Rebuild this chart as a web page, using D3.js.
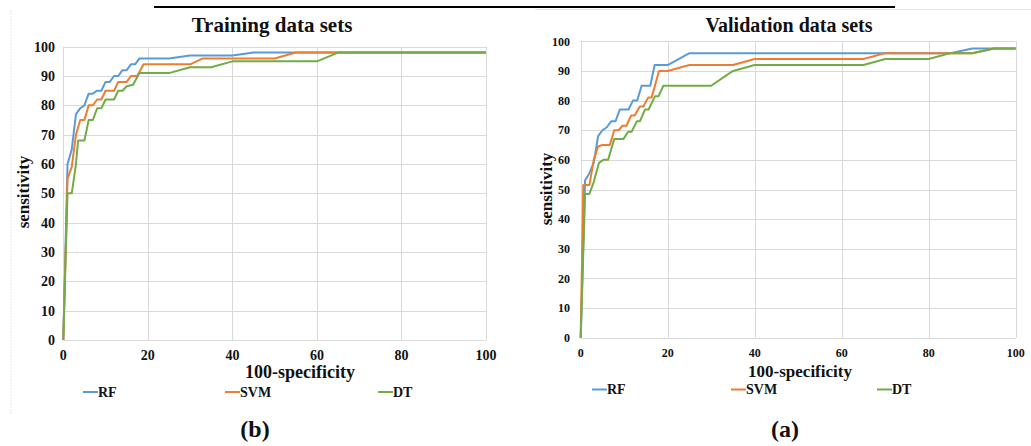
<!DOCTYPE html>
<html><head><meta charset="utf-8">
<script src="https://cdn.jsdelivr.net/npm/d3@7"></script>
<style>
html,body{margin:0;padding:0;background:#fff;}
svg{display:block;}
text{font-family:"Liberation Serif","Times New Roman",serif;font-weight:bold;fill:#111;}
</style></head>
<body>
<svg id="chart" width="1031" height="446"></svg>
<script>
// ---- data ----
const seriesNames = ["RF", "SVM", "DT"];
const seriesColors = ["#5B9BD5", "#ED7D31", "#70AD47"];
const xTicks = [0, 20, 40, 60, 80, 100];
const yTicks = [0, 10, 20, 30, 40, 50, 60, 70, 80, 90, 100];

const trainRF = [[0,0],[1,60],[2,65],[3,77],[4,79],[5,80],[6,84],[7,84],[8,85],[9,85],[10,88],[11,88],[12,90],[13,90],[14,92],[15,92],[16,94],[17,94],[18,96],[25,96],[30,97],[40,97],[45,98],[100,98]];
const trainSVM = [[0,0],[1,55],[2,59],[3,70],[4,75],[5,75],[6,80],[7,80],[8,82],[9,82],[10,85],[12,85],[13,88],[15,88],[16,90],[17.5,90],[19,94],[30,94],[33,96],[50,96],[55,98],[100,98]];
const trainDT = [[0,0],[1,50],[2,50],[3,60],[3.5,68],[5,68],[6,75],[7,75],[8,79],[9,79],[10,82],[12,82],[13,85],[14,85],[15,86.5],[16.5,87],[18,91],[25,91],[30,93],[35,93],[40,95],[60,95],[65,98],[100,98]];

const validRF = [[0,0],[1,53],[2,55.5],[3,59],[4,68],[5,70],[6,71],[7,73],[8,73],[9,77],[11,77],[12,80],[13,80],[14,85],[16,85],[17,92],[20,92],[25,96],[85,96],[90,97.6],[95,97.6],[100,97.6]];
const validSVM = [[0,0],[0.6,51.5],[2,51.5],[3,60],[4,64.5],[5,65],[6.7,65],[7.7,70],[8.7,70],[9.6,71.5],[10.5,71.5],[11.6,75],[12.4,75],[13.6,78],[14.4,78],[15.5,81],[16.3,81],[18,90],[20,90],[25,92],[35,92],[40,94],[65,94],[70,96],[90,96],[95,97.6],[100,97.6]];
const validDT = [[0,0],[1,48.5],[2,48.5],[3,52.5],[4.2,59],[5.2,60],[6.3,60],[7.7,67],[9.8,67],[10.9,69.5],[11.7,69.5],[12.9,73],[13.6,73],[14.8,77],[15.6,77],[17.1,81.5],[17.9,81.5],[19,85],[30,85],[35,90],[40,92],[65,92],[70,94],[80,94],[85,96],[90,96],[95,97.6],[100,97.6]];

const svg = d3.select("#chart");

// decorative borders
svg.append("line").attr("x1",154).attr("x2",895).attr("y1",7).attr("y2",7).attr("stroke","#000").attr("stroke-width",2);
svg.append("line").attr("x1",535).attr("x2",1031).attr("y1",9.5).attr("y2",9.5).attr("stroke","#e6e6e6").attr("stroke-width",1);
svg.append("line").attr("x1",11).attr("x2",11).attr("y1",10).attr("y2",415).attr("stroke","#e6e6e6").attr("stroke-width",1).attr("stroke-dasharray","2,1");

function panel(cfg){
  const x = d3.scaleLinear().domain([0,100]).range([cfg.x0, cfg.x1]);
  const y = d3.scaleLinear().domain([0,100]).range([cfg.y0, cfg.y1]);
  const g = svg.append("g");
  // grid
  g.selectAll(".hg").data(yTicks).join("line")
    .attr("x1", x(0)).attr("x2", x(100))
    .attr("y1", d=>Math.round(y(d))+0.5).attr("y2", d=>Math.round(y(d))+0.5)
    .attr("stroke", "#d9d9d9").attr("stroke-width",1);
  g.selectAll(".vg").data(xTicks).join("line")
    .attr("y1", y(0)).attr("y2", y(100))
    .attr("x1", d=>Math.round(x(d))+0.5).attr("x2", d=>Math.round(x(d))+0.5)
    .attr("stroke", "#d9d9d9").attr("stroke-width",1);
  // tick labels
  g.selectAll(".yl").data(yTicks).join("text")
    .attr("x", cfg.yLabelX).attr("y", d=>y(d)).attr("dy","0.35em")
    .attr("text-anchor","end").attr("font-size", cfg.tickSize).text(d=>d);
  g.selectAll(".xl").data(xTicks).join("text")
    .attr("x", d=>x(d)).attr("y", cfg.xLabelY).attr("dy","0.35em")
    .attr("text-anchor","middle").attr("font-size", cfg.tickSize).text(d=>d);
  // lines
  const line = d3.line().x(d=>x(d[0])).y(d=>y(d[1]));
  cfg.series.forEach((s,i)=>{
    g.append("path").datum(s).attr("d", line)
      .attr("fill","none").attr("stroke", seriesColors[i]).attr("stroke-width",2)
      .attr("stroke-linejoin","round");
  });
  // titles
  g.append("text").attr("x", cfg.titleX).attr("y", cfg.titleY).attr("text-anchor","middle")
    .attr("font-size", cfg.titleSize).text(cfg.title);
  g.append("text").attr("x", cfg.xTitleX).attr("y", cfg.xTitleY).attr("text-anchor","middle")
    .attr("font-size", cfg.axisTitleSize).text("100-specificity");
  g.append("text").attr("transform", `translate(${cfg.yTitleX},${cfg.yTitleY}) rotate(-90)`)
    .attr("text-anchor","middle").attr("font-size", 17).text("sensitivity");
  // legend
  seriesNames.forEach((n,i)=>{
    const lx = cfg.legendX[i];
    g.append("line").attr("x1", lx).attr("x2", lx+15).attr("y1", cfg.legendY).attr("y2", cfg.legendY)
      .attr("stroke", seriesColors[i]).attr("stroke-width",2);
    g.append("text").attr("x", lx+15).attr("y", cfg.legendY).attr("dy","0.35em")
      .attr("font-size", 14).text(n);
  });
  g.append("text").attr("x", cfg.capX).attr("y", 437).attr("text-anchor","middle")
    .attr("font-size", 24).text(cfg.caption);
}

panel({
  x0: 63.3, x1: 486, y0: 340, y1: 46.7,
  yLabelX: 55, xLabelY: 355, tickSize: 14,
  series: [trainRF, trainSVM, trainDT],
  title: "Training data sets", titleX: 272, titleY: 32, titleSize: 21,
  xTitleX: 300, xTitleY: 378, axisTitleSize: 18, yTitleX: 29, yTitleY: 192,
  legendX: [83, 225, 378], legendY: 392,
  caption: "(b)", capX: 255
});
panel({
  x0: 580.7, x1: 1015.7, y0: 337.7, y1: 41.3,
  yLabelX: 570, xLabelY: 353, tickSize: 12,
  series: [validRF, validSVM, validDT],
  title: "Validation data sets", titleX: 789, titleY: 32, titleSize: 20,
  xTitleX: 800, xTitleY: 377, axisTitleSize: 17, yTitleX: 552, yTitleY: 189,
  legendX: [592, 731, 877], legendY: 389.5,
  caption: "(a)", capX: 785
});
</script>
</body></html>
